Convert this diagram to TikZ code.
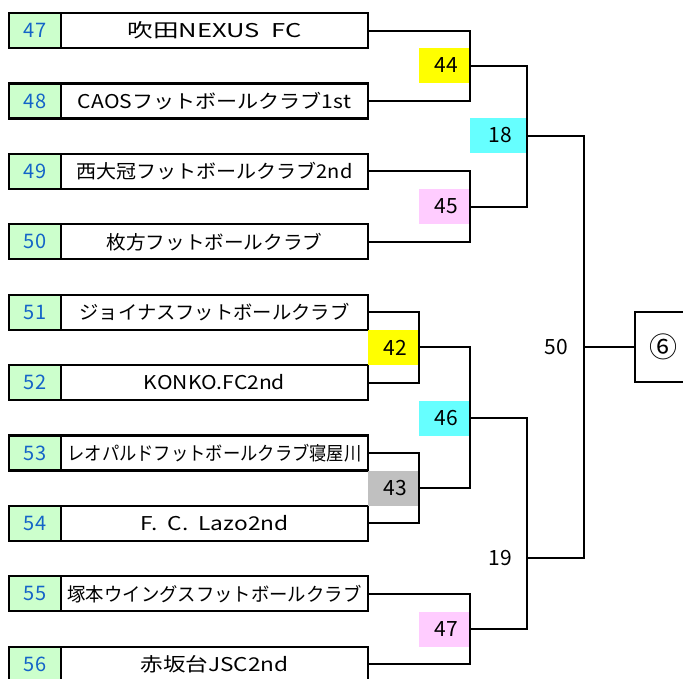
\documentclass[tikz,border=0pt]{standalone}
\usepackage{fontspec}
\usepackage{graphicx}
\setmainfont{Noto Sans CJK JP}
\definecolor{numgreen}{RGB}{204,255,204}
\definecolor{numblue}{RGB}{20,100,200}
\definecolor{byel}{RGB}{255,255,0}
\definecolor{bcyan}{RGB}{102,255,255}
\definecolor{bpink}{RGB}{255,204,255}
\definecolor{bgray}{RGB}{192,192,192}
\newcommand{\fitw}[2]{\resizebox{#1pt}{\height}{#2}}
\tikzset{
  numcell/.style={draw, line width=2.2pt, fill=numgreen, minimum width=52, minimum height=35, inner sep=0, outer sep=0,
    text=numblue, font=\fontsize{20}{20}\selectfont},
  namecell/.style={draw, line width=2.2pt, fill=white, minimum width=307, minimum height=35, inner sep=0, outer sep=0,
    font=\fontsize{19}{19}\selectfont},
  lab/.style={inner sep=0, outer sep=0, minimum height=35, font=\fontsize{21}{21}\selectfont},
  conn/.style={line width=2pt},
  plain/.style={font=\fontsize{21}{21}\selectfont, inner sep=0}
}
\begin{document}
\begin{tikzpicture}[x=1pt,y=-1pt]
\useasboundingbox (0,0) rectangle (683,678);
% team rows
\foreach \i/\num/\name in {
  0/47/{\fitw{174}{吹田NEXUS\hspace{0.45em}FC}},
  1/48/{\fitw{273}{CAOSフットボールクラブ1st}},
  2/49/{\fitw{276}{西大冠フットボールクラブ2nd}},
  3/50/{\fitw{216}{枚方フットボールクラブ}},
  4/51/{\fitw{270}{ジョイナスフットボールクラブ}},
  5/52/{\fitw{141}{KONKO.FC2nd}},
  6/53/{\fitw{294}{レオパルドフットボールクラブ寝屋川}},
  7/54/{\fitw{148}{F.\ \ C.\ \ Lazo2nd}},
  8/55/{\fitw{294}{塚本ウイングスフットボールクラブ}},
  9/56/{\fitw{148}{赤坂台JSC2nd}}}{
  \node[numcell] (k\num) at (35,{30.5+70.4*\i}) {\num};
  \node[namecell] (n\num) at (214.5,{30.5+70.4*\i}) {\name};
}
% colored match labels
\node[lab, fill=byel, minimum width=51] (b44) at (444.5,65.5) {\hspace{4pt}44};
\node[lab, fill=bpink, minimum width=51] (b45) at (444.5,206.5) {\hspace{4pt}45};
\node[lab, fill=bcyan, minimum width=56] (b18) at (498,135.5) {\hspace{4pt}18};
\node[lab, fill=byel, minimum width=51] (b42) at (393.5,347.5) {\hspace{4pt}42};
\node[lab, fill=bgray, minimum width=51] (b43) at (393.5,488) {\hspace{4pt}43};
\node[lab, fill=bcyan, minimum width=51] (b46) at (444.5,418) {\hspace{4pt}46};
\node[lab, fill=bpink, minimum width=51] (b47) at (444.5,629) {\hspace{4pt}47};
% junctions
\coordinate (j44) at (470,65.7);
\coordinate (j45) at (470,206.5);
\coordinate (j18) at (527,136);
\coordinate (j42) at (419,347.3);
\coordinate (j43) at (419,488);
\coordinate (j46) at (470,417.7);
\coordinate (j47) at (470,629);
\coordinate (j19) at (527,558);
\coordinate (j50) at (584,347);
% final box
\node[draw, line width=2.2pt, minimum width=70, minimum height=70, inner sep=0, outer sep=0, anchor=west,
  font=\fontsize{28}{28}\selectfont] (fin) at (635,347) {\hspace{-13pt}⑥};
% connectors
\draw[conn] (n47.east) -| (j44) |- (n48.east);
\draw[conn] (n49.east) -| (j45) |- (n50.east);
\draw[conn] (j44) -| (j18) |- (j45);
\draw[conn] (n51.east) -| (j42) |- (n52.east);
\draw[conn] (n53.east) -| (j43) |- (n54.east);
\draw[conn] (j42) -| (j46) |- (j43);
\draw[conn] (n55.east) -| (j47) |- (n56.east);
\draw[conn] (j46) -| (j19) |- (j47);
\draw[conn] (j18) -| (j50) |- (j19);
\draw[conn] (j50) -- (fin.west);
% round labels
\node[plain] (l19) at (500,558) {19};
\node[plain] (l50) at (556.5,347) {50};
\end{tikzpicture}
\end{document}
